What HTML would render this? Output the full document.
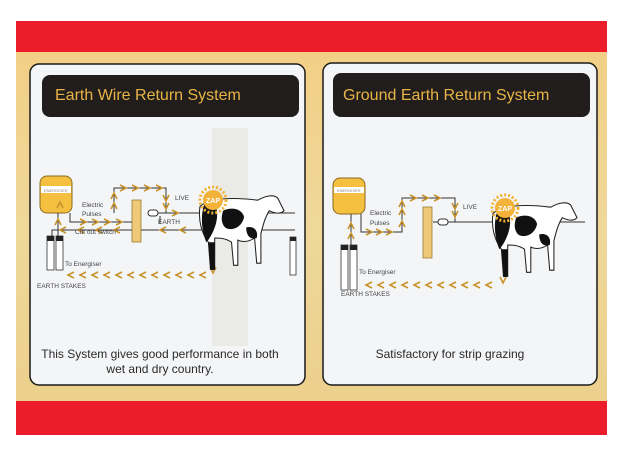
<!DOCTYPE html>
<html><head><meta charset="utf-8"><style>
html,body{margin:0;padding:0;background:#fff;width:624px;height:468px;overflow:hidden}
</style></head><body>
<svg width="624" height="468" viewBox="0 0 624 468" xmlns="http://www.w3.org/2000/svg" font-family="Liberation Sans, sans-serif">
<defs>
<linearGradient id="tan" x1="0" y1="0" x2="0" y2="1">
<stop offset="0" stop-color="#f2cf86"/><stop offset="0.5" stop-color="#efd89a"/><stop offset="1" stop-color="#ecd08c"/>
</linearGradient>
<g id="chevL"><path d="M4,-3 L-2,0 L4,3" fill="none" stroke="#c9932c" stroke-width="1.6"/></g>
<g id="chevR"><path d="M-4,-3 L2,0 L-4,3" fill="none" stroke="#c9932c" stroke-width="1.6"/></g>
<g id="chevU"><path d="M-3,3 L0,-3 L3,3" fill="none" stroke="#c9932c" stroke-width="1.6"/></g>
<g id="chevD"><path d="M-3,-3 L0,3 L3,-3" fill="none" stroke="#c9932c" stroke-width="1.6"/></g>
<g id="cow">
<path d="M0,10 C10,0 40,2 55,4 C62,0 70,-2 74,2 L80,14 C76,18 70,16 66,14 C62,20 60,28 58,36 L58,64 L54,64 L52,40 C46,44 40,44 36,42 L36,66 L32,66 L30,44 C24,40 18,40 14,40 L14,70 L10,70 L8,44 C2,36 -2,24 0,10 Z" fill="#fff" stroke="#222" stroke-width="1"/>
<path d="M4,8 C10,4 16,6 16,14 C18,26 10,40 6,44 C2,34 0,20 4,8 Z" fill="#111"/>
<path d="M22,14 C30,10 40,12 42,20 C40,30 30,34 24,30 C20,26 20,20 22,14 Z" fill="#111"/>
<path d="M44,30 C50,28 56,32 54,40 C48,42 44,38 44,30 Z" fill="#111"/>
<path d="M14,44 L14,70 L10,70 L8,44 Z" fill="#111"/>
</g>
<g id="sun">
<circle r="10" fill="#f3b23a"/>
<circle r="13" fill="none" stroke="#f3b23a" stroke-width="3" stroke-dasharray="2 2"/>
<text x="0" y="3" font-size="7" fill="#fff" text-anchor="middle" font-weight="bold">ZAP</text>
</g>
</defs>
<rect x="0" y="0" width="624" height="468" fill="#fff"/>
<rect x="16" y="52" width="591" height="350" fill="url(#tan)"/>
<rect x="16" y="21" width="591" height="31" fill="#ec1c2a"/>
<rect x="16" y="401" width="591" height="34" fill="#ec1c2a"/>

<rect x="30" y="64" width="275" height="321" rx="9" fill="#f4f5f7" stroke="#1a1a1a" stroke-width="1.5"/>
<rect x="323" y="63" width="274" height="322" rx="9" fill="#f4f5f7" stroke="#1a1a1a" stroke-width="1.5"/>
<rect x="42" y="75" width="257" height="42" rx="8" fill="#211d1c"/>
<rect x="333" y="73" width="257" height="44" rx="8" fill="#211d1c"/>
<text x="55" y="100" font-size="16" fill="#e8b445">Earth Wire Return System</text>
<text x="343" y="100" font-size="16" fill="#e8b445">Ground Earth Return System</text>

<rect x="212" y="128" width="36" height="218" fill="#e2e2dc" opacity="0.6"/>

<g>
<rect x="40" y="176" width="32" height="37" rx="7" fill="#f5c040" stroke="#8a6a20" stroke-width="1"/>
<rect x="41" y="186" width="30" height="7" fill="#fff"/>
<text x="44" y="192" font-size="4" fill="#888">ENERGISER</text>
<g stroke="#333" stroke-width="1" fill="none">
<path d="M70,213 L70,222 L133,222"/>
<path d="M58,213 L58,236 M52,236 L52,230 L75,230 L295,230"/>
<path d="M150,213 L295,213"/>
<path d="M114,213 L114,188 L166,188 L166,213"/>
<path d="M133,222 L141,222"/>
<path d="M160,216 L160,224"/>
</g>
<rect x="132" y="200" width="9" height="42" fill="#f0c978" stroke="#8a6a20" stroke-width="0.7"/>
<rect x="148" y="210" width="10" height="6" rx="3" fill="#fff" stroke="#333" stroke-width="1"/>
<rect x="47" y="236" width="7" height="34" fill="#fff" stroke="#333" stroke-width="0.8"/>
<rect x="56" y="236" width="7" height="34" fill="#fff" stroke="#333" stroke-width="0.8"/>
<rect x="47" y="236" width="7" height="5" fill="#222"/><rect x="56" y="236" width="7" height="5" fill="#222"/>
<rect x="290" y="237" width="6" height="38" fill="#fff" stroke="#333" stroke-width="0.8"/>
<rect x="290" y="237" width="6" height="4" fill="#222"/>
<g>
<use href="#chevR" x="84" y="222"/><use href="#chevR" x="96" y="222"/><use href="#chevR" x="108" y="222"/><use href="#chevR" x="120" y="222"/>
<use href="#chevR" x="124" y="188"/><use href="#chevR" x="136" y="188"/><use href="#chevR" x="148" y="188"/><use href="#chevR" x="160" y="188"/>
<use href="#chevU" x="114" y="196"/><use href="#chevU" x="114" y="206"/>
<use href="#chevD" x="166" y="198"/><use href="#chevD" x="166" y="206"/>
<use href="#chevR" x="176" y="213"/>
<use href="#chevL" x="62" y="230"/><use href="#chevL" x="80" y="230"/><use href="#chevL" x="98" y="230"/><use href="#chevL" x="116" y="230"/>
<use href="#chevL" x="162" y="230"/><use href="#chevL" x="182" y="230"/>
<use href="#chevU" x="58" y="222"/><use href="#chevU" x="60" y="205"/>
</g>
<g><use href="#chevL" x="70" y="275"/><use href="#chevL" x="82" y="275"/><use href="#chevL" x="94" y="275"/><use href="#chevL" x="106" y="275"/><use href="#chevL" x="118" y="275"/><use href="#chevL" x="130" y="275"/><use href="#chevL" x="142" y="275"/><use href="#chevL" x="154" y="275"/><use href="#chevL" x="166" y="275"/><use href="#chevL" x="178" y="275"/><use href="#chevL" x="190" y="275"/><use href="#chevL" x="202" y="275"/><use href="#chevD" x="213" y="270"/></g>
<use href="#cow" transform="translate(200,196) scale(1.05)"/>
<use href="#sun" x="213" y="200"/>
<g font-size="6.5" fill="#444">
<text x="82" y="207">Electric</text><text x="82" y="216">Pulses</text>
<text x="75" y="234">Cut out switch</text>
<text x="175" y="200">LIVE</text>
<text x="158" y="224">EARTH</text>
<text x="65" y="266">To Energiser</text>
<text x="37" y="288">EARTH STAKES</text>
</g>
</g>

<g>
<rect x="333" y="178" width="32" height="36" rx="7" fill="#f5c040" stroke="#8a6a20" stroke-width="1"/>
<rect x="334" y="187" width="30" height="6" fill="#fff"/>
<text x="337" y="192" font-size="4" fill="#888">ENERGISER</text>
<g stroke="#333" stroke-width="1" fill="none">
<path d="M361,214 L361,232 L402,232 L402,198 L455,198 L455,222"/>
<path d="M351,214 L351,245"/>
<path d="M433,222 L585,222"/>
</g>
<rect x="423" y="207" width="9" height="51" fill="#f0c978" stroke="#8a6a20" stroke-width="0.7"/>
<rect x="438" y="219" width="10" height="6" rx="3" fill="#fff" stroke="#333" stroke-width="1"/>
<rect x="341" y="245" width="7" height="45" fill="#fff" stroke="#333" stroke-width="0.8"/>
<rect x="350" y="245" width="7" height="45" fill="#fff" stroke="#333" stroke-width="0.8"/>
<rect x="341" y="245" width="7" height="5" fill="#222"/><rect x="350" y="245" width="7" height="5" fill="#222"/>
<g>
<use href="#chevR" x="370" y="232"/><use href="#chevR" x="380" y="232"/><use href="#chevR" x="390" y="232"/>
<use href="#chevU" x="402" y="224"/><use href="#chevU" x="402" y="212"/><use href="#chevU" x="402" y="204"/>
<use href="#chevR" x="414" y="198"/><use href="#chevR" x="426" y="198"/><use href="#chevR" x="438" y="198"/>
<use href="#chevD" x="455" y="206"/><use href="#chevD" x="455" y="214"/>
<use href="#chevU" x="351" y="236"/><use href="#chevU" x="351" y="226"/>
</g>
<g><use href="#chevL" x="368" y="285"/><use href="#chevL" x="380" y="285"/><use href="#chevL" x="392" y="285"/><use href="#chevL" x="404" y="285"/><use href="#chevL" x="416" y="285"/><use href="#chevL" x="428" y="285"/><use href="#chevL" x="440" y="285"/><use href="#chevL" x="452" y="285"/><use href="#chevL" x="464" y="285"/><use href="#chevL" x="476" y="285"/><use href="#chevL" x="488" y="285"/><use href="#chevD" x="503" y="280"/></g>
<use href="#cow" transform="translate(493,203) scale(1.05)"/>
<use href="#sun" x="505" y="208"/>
<g font-size="6.5" fill="#444">
<text x="370" y="215">Electric</text><text x="370" y="225">Pulses</text>
<text x="463" y="209">LIVE</text>
<text x="359" y="274">To Energiser</text>
<text x="341" y="296">EARTH STAKES</text>
</g>
</g>

<g font-size="12" fill="#2a2a2a" text-anchor="middle">
<text x="160" y="358">This System gives good performance in both</text>
<text x="160" y="373">wet and dry country.</text>
<text x="450" y="358">Satisfactory for strip grazing</text>
</g>
</svg>
</body></html>
